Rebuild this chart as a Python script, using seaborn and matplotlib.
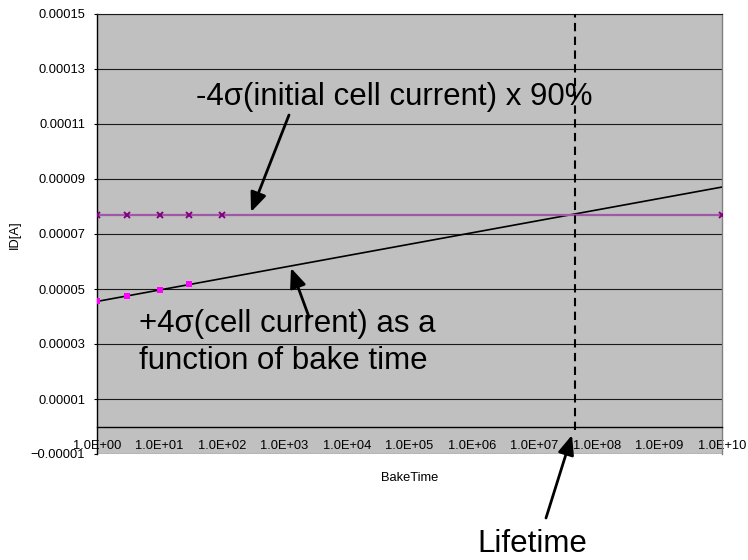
import pandas as pd
import seaborn as sns
import matplotlib.pyplot as plt

# +4 sigma cell current measured at each bake time
bake_time = [1, 3, 10, 30]
cell_current = [4.56e-5, 4.73e-5, 4.96e-5, 5.17e-5]

# -4 sigma initial cell current x 90% (spec level)
spec_time = [1, 3, 10, 30, 100, 1e10]
spec_current = [7.70e-5, 7.70e-5, 7.70e-5, 7.70e-5, 7.70e-5, 7.70e-5]

lifetime = 4.5e7

x_ticks = [1e0, 1e1, 1e2, 1e3, 1e4, 1e5, 1e6, 1e7, 1e8, 1e9, 1e10]
x_labels = ["1.0E+00", "1.0E+01", "1.0E+02", "1.0E+03", "1.0E+04", "1.0E+05",
            "1.0E+06", "1.0E+07", "1.0E+08", "1.0E+09", "1.0E+10"]
y_ticks = [-1e-5, 1e-5, 3e-5, 5e-5, 7e-5, 9e-5, 11e-5, 13e-5, 15e-5]
y_labels = ["\u22120.00001", "0.00001", "0.00003", "0.00005", "0.00007",
            "0.00009", "0.00011", "0.00013", "0.00015"]

meas_df = pd.DataFrame({"BakeTime": bake_time, "ID": cell_current})
spec_df = pd.DataFrame({"BakeTime": spec_time, "ID": spec_current})

sns.set_style("white", rc={'text.color': 'black', 'axes.labelcolor': 'black',
                           'xtick.color': 'black', 'ytick.color': 'black'})
plt.rcParams['font.family'] = ['Liberation Sans', 'DejaVu Sans']

W, H = 748, 560
fig = plt.figure(figsize=(W / 100, H / 100), dpi=100)
ax = fig.add_axes([97 / W, 1 - 454 / H, 625 / W, 440 / H])
ax.set_facecolor('#c0c0c0')
ax.set_xscale('log')
ax.set_xlim(1, 1e10)
ax.set_ylim(-1e-5, 15e-5)

# trend line of the measured points (linear in log time), extended over the axis
sns.regplot(data=meas_df, x="BakeTime", y="ID", logx=True, truncate=False, ci=None,
            scatter=False, color='black', line_kws={'lw': 1.2, 'zorder': 3}, ax=ax)
sns.scatterplot(data=meas_df, x="BakeTime", y="ID", marker='s', s=22, color='#ff00ff',
                linewidth=0, zorder=4, ax=ax)
sns.lineplot(data=spec_df, x="BakeTime", y="ID", color='#a05aa5', lw=1.6, marker='x',
             markersize=5, markeredgecolor='#800080', markeredgewidth=1.4, zorder=3, ax=ax)

ax.axvline(lifetime, ymin=0.055, ymax=1, color='black', lw=1.5,
           linestyle=(0, (4, 2.6)), zorder=5)

ax.set_xlim(1, 1e10)
ax.set_ylim(-1e-5, 15e-5)

ax.set_xticks(x_ticks, x_labels)
ax.minorticks_off()
ax.set_yticks(y_ticks, y_labels)
ax.tick_params(axis='x', direction='in', length=3, width=0.8, pad=10, labelsize=9.3)
ax.tick_params(axis='y', direction='out', length=2.5, width=0.8, pad=6, labelsize=9.3, left=True)
ax.yaxis.grid(True, color='#1a1a1a', lw=0.8)
ax.xaxis.grid(False)
ax.set_axisbelow(True)

ax.spines['bottom'].set_position(('data', 0))
ax.spines['bottom'].set_color('black')
ax.spines['bottom'].set_linewidth(1.0)
ax.spines['left'].set_color('black')
ax.spines['left'].set_linewidth(1.0)
ax.spines['top'].set_color('#1a1a1a')
ax.spines['top'].set_linewidth(0.8)
ax.spines['right'].set_color('#808080')
ax.spines['right'].set_linewidth(1.0)

ax.set_xlabel("BakeTime", fontsize=9.3)
ax.set_ylabel("ID[A]", fontsize=9.3)
ax.xaxis.set_label_coords((410 - 97) / 625, (454 - 472) / 440)
ax.yaxis.set_label_coords((21 - 97) / 625, (454 - 235) / 440)


def fp(px, py):
    return px / W, 1 - py / H


fig.text(*fp(196, 105), "-4\u03c3(initial cell current) x 90%", fontsize=22.5, va='baseline')
fig.text(*fp(139, 332), "+4\u03c3(cell current) as a", fontsize=22.5, va='baseline')
fig.text(*fp(139, 369), "function of bake time", fontsize=22.5, va='baseline')
fig.text(*fp(532, 552), "Lifetime", fontsize=22.5, va='baseline', ha='center')

arrow = dict(arrowstyle='-|>,head_length=0.65,head_width=0.27', color='black',
             lw=2, mutation_scale=18, shrinkA=0, shrinkB=0)
for tail, tip in [((289, 115), (251, 212)), ((309, 317), (291, 268)), ((546, 518), (572, 435))]:
    ax.annotate('', xy=fp(*tip), xytext=fp(*tail), xycoords='figure fraction',
                textcoords='figure fraction', arrowprops=arrow, zorder=6)

fig.savefig("out.png", dpi=100)
